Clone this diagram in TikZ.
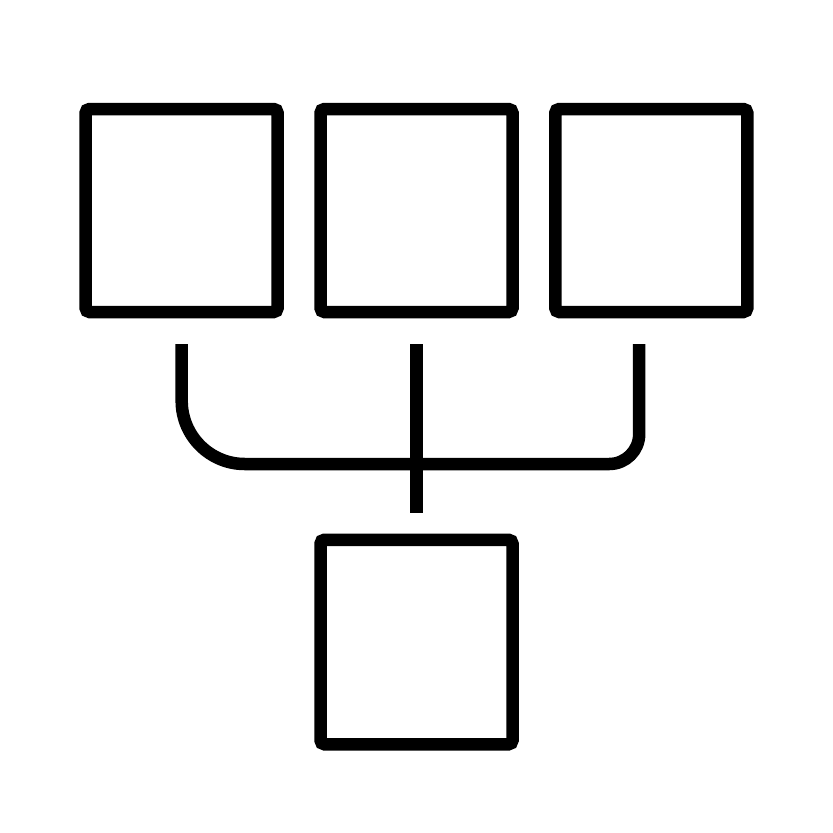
\documentclass[tikz,border=0pt]{standalone}
\usetikzlibrary{positioning}

\tikzset{
    unit/.style = {draw, line width=12.5pt, rounded corners=4pt,
                   minimum width=192pt, minimum height=203pt, inner sep=0pt},
    wire/.style = {line width=12.5pt}
}

\begin{document}
\begin{tikzpicture}[x=1pt, y=-1pt]
            \useasboundingbox (0,0) rectangle (833,833);
            \node[unit] (left) at (181.6,210.5) {};
            \node[unit] (mid) at (416.5,210.5) {};
            \node[unit] (right) at (651.3,210.5) {};
            \node[unit, minimum height=204.5pt] (out) at (416.5,642) {};
            \coordinate (ltop) at (181.7,344);
            \coordinate (mtop) at (416.3,344);
            \coordinate (rtop) at (639.2,344);
            \coordinate (join) at (416.3,464);
            \coordinate (mbot) at (416.3,513);
            \draw[wire, rounded corners=63pt] (ltop) |- (join);
            \draw[wire, rounded corners=30pt] (join) -| (rtop);
            \draw[wire] (mtop) -- (mbot);
        \end{tikzpicture}
\end{document}
